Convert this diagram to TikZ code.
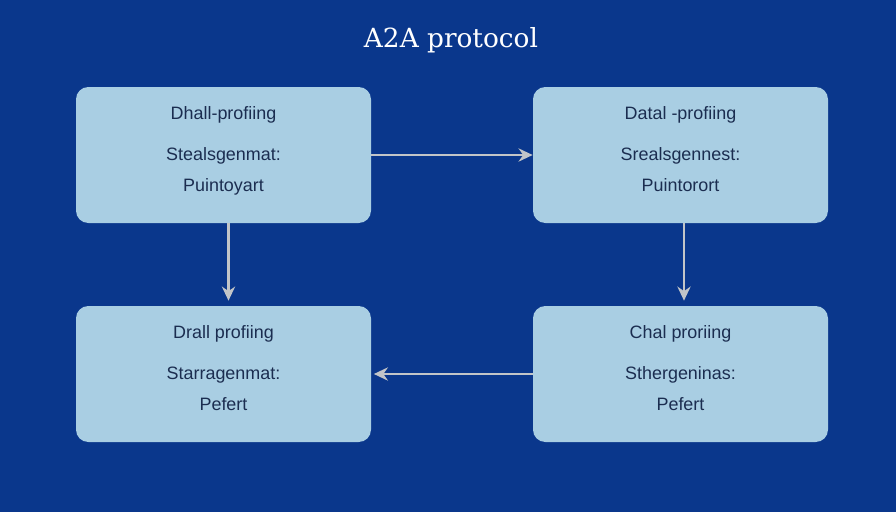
\documentclass[tikz,border=0pt]{standalone}
\usepackage{fontspec}
\setmainfont{Liberation Sans}
\newfontfamily\titlefont{DejaVu Serif}
\usetikzlibrary{arrows.meta}
\definecolor{bgblue}{HTML}{0A378C}
\definecolor{boxfill}{HTML}{A9CEE3}
\definecolor{boxtext}{HTML}{1B2D50}
\definecolor{arrowgray}{HTML}{C2C5C8}
\tikzset{
  stage/.style={fill=boxfill,rounded corners=7pt,minimum width=5.9cm,minimum height=2.72cm,inner sep=0pt},
  txt/.style={text=boxtext,font=\fontsize{10.2}{12}\selectfont,inner sep=0pt,anchor=base},
  flow/.style={->,arrowgray,line width=1.6pt}
}
\begin{document}
\begin{tikzpicture}[>={Stealth[length=8pt,width=7.5pt]}]
\fill[bgblue] (0,0) rectangle (17.92,-10.24);
\useasboundingbox (0,0) rectangle (17.92,-10.24);
\node[text=white,font=\titlefont\fontsize{15}{17}\selectfont] (title) at (9.02,-0.8) {A2A protocol};
% boxes
\node[stage] (dhall) at (4.47,-3.1) {};
\node[stage] (datal) at (13.61,-3.1) {};
\node[stage] (drall) at (4.47,-7.48) {};
\node[stage] (chal) at (13.61,-7.48) {};
% texts
\node[txt] (dhall1) at ([yshift=0.72cm]dhall.center) {Dhall-profiing};
\node[txt] (dhall2) at ([yshift=-0.1cm]dhall.center) {Stealsgenmat:};
\node[txt] (dhall3) at ([yshift=-0.72cm]dhall.center) {Puintoyart};
\node[txt] (datal1) at ([yshift=0.72cm]datal.center) {Datal -profiing};
\node[txt] (datal2) at ([yshift=-0.1cm]datal.center) {Srealsgennest:};
\node[txt] (datal3) at ([yshift=-0.72cm]datal.center) {Puintorort};
\node[txt] (drall1) at ([yshift=0.72cm]drall.center) {Drall profiing};
\node[txt] (drall2) at ([yshift=-0.1cm]drall.center) {Starragenmat:};
\node[txt] (drall3) at ([yshift=-0.72cm]drall.center) {Pefert};
\node[txt] (chal1) at ([yshift=0.72cm]chal.center) {Chal proriing};
\node[txt] (chal2) at ([yshift=-0.1cm]chal.center) {Sthergeninas:};
\node[txt] (chal3) at ([yshift=-0.72cm]chal.center) {Pefert};
% arrows
\draw[flow] (dhall.east) -- (datal.west);
\draw[flow,shorten >=0.1cm] ([xshift=0.1cm]dhall.south) -- ([xshift=0.1cm]drall.north);
\draw[flow,shorten >=0.1cm] ([xshift=0.07cm]datal.south) -- ([xshift=0.07cm]chal.north);
\draw[flow,shorten >=0.05cm] (chal.west) -- (drall.east);
\end{tikzpicture}
\end{document}
